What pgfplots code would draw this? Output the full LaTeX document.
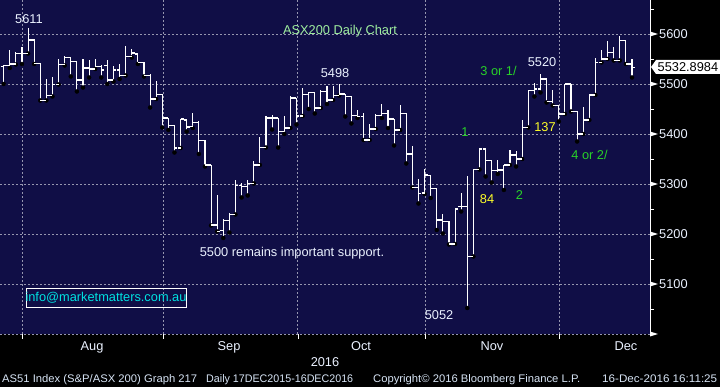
\documentclass[border=0pt]{standalone}
\usepackage{pgfplots}
\pgfplotsset{compat=1.18}
\usepackage{pgfplotstable}
\usepackage{graphicx}
\usepackage{fontspec}
\setmainfont{Liberation Sans}
\definecolor{bg}{RGB}{16,14,70}
\definecolor{gridc}{RGB}{150,150,175}
\definecolor{txt}{RGB}{235,242,255}
\definecolor{grn}{RGB}{40,210,40}
\definecolor{lgrn}{RGB}{160,240,160}
\definecolor{yel}{RGB}{255,255,40}
\definecolor{cyn}{RGB}{0,225,225}
\definecolor{foot}{RGB}{215,228,245}
\newcommand{\lab}{\fontsize{12.8}{15}\selectfont}
\newcommand{\ft}{\fontsize{11}{12}\selectfont}
\pgfdeclareplotmark{openL}{\pgfpathmoveto{\pgfqpoint{-3pt}{0pt}}\pgfpathlineto{\pgfqpoint{0pt}{0pt}}\pgfusepathqstroke}
\pgfdeclareplotmark{closeR}{\pgfpathmoveto{\pgfqpoint{0pt}{0pt}}\pgfpathlineto{\pgfqpoint{3pt}{0pt}}\pgfusepathqstroke}
\pgfplotstableread{
i O H L C
-3 5535 5538 5500 5537
-2 5537 5567 5532 5540
-1 5540 5563 5539 5561
0 5561 5573 5540 5561
1 5561 5611 5561 5588
2 5588 5590 5540 5541
3 5541 5541 5467 5467
4 5467 5510 5467 5477
5 5477 5513 5475 5499
6 5499 5550 5499 5539
7 5539 5555 5537 5553
8 5553 5553 5515 5545
9 5545 5545 5485 5508
10 5508 5550 5493 5532
11 5532 5547 5513 5530
12 5530 5550 5530 5535
13 5535 5537 5513 5528
14 5537 5547 5500 5508
15 5508 5535 5505 5528
16 5528 5539 5510 5517
17 5517 5575 5517 5555
18 5555 5570 5553 5562
19 5560 5562 5540 5543
20 5543 5543 5515 5517
21 5517 5519 5453 5470
22 5470 5505 5470 5479
23 5479 5479 5413 5432
24 5432 5432 5408 5417
25 5417 5417 5363 5372
26 5372 5430 5372 5430
27 5428 5430 5405 5414
28 5415 5441 5412 5423
29 5423 5425 5360 5387
30 5387 5387 5335 5338
31 5338 5338 5217 5218
32 5218 5277 5205 5205
33 5207 5230 5192 5227
34 5227 5241 5203 5239
35 5239 5307 5239 5297
36 5297 5301 5273 5295
37 5295 5307 5277 5301
38 5301 5345 5301 5338
39 5338 5393 5338 5373
40 5373 5435 5373 5432
41 5432 5437 5409 5432
42 5432 5432 5373 5405
43 5405 5435 5400 5412
44 5412 5475 5412 5472
45 5472 5472 5419 5436
46 5436 5492 5436 5479
47 5479 5483 5450 5483
48 5483 5483 5441 5452
49 5452 5487 5452 5485
50 5485 5495 5460 5468
51 5468 5495 5468 5477
52 5477 5499 5477 5480
53 5480 5480 5435 5475
54 5475 5475 5421 5437
55 5437 5448 5432 5435
56 5435 5441 5388 5388
57 5388 5419 5388 5410
58 5410 5439 5410 5437
59 5437 5459 5432 5441
60 5441 5447 5412 5430
61 5430 5430 5377 5408
62 5408 5457 5408 5441
63 5441 5441 5341 5360
64 5360 5375 5293 5293
65 5293 5310 5261 5281
66 5282 5330 5280 5318
67 5317 5317 5272 5291
68 5291 5291 5208 5228
69 5228 5240 5201 5225
70 5225 5225 5179 5180
71 5180 5250 5180 5250
72 5255 5282 5245 5255
73 5255 5315 5052 5155
74 5155 5330 5155 5329
75 5329 5370 5329 5370
76 5370 5370 5315 5347
77 5347 5347 5303 5327
78 5327 5347 5320 5328
79 5328 5337 5288 5338
80 5338 5367 5338 5358
81 5358 5365 5335 5350
82 5350 5427 5350 5413
83 5413 5488 5413 5487
84 5487 5502 5475 5490
85 5490 5520 5483 5510
86 5510 5510 5463 5465
87 5465 5487 5457 5457
88 5457 5457 5425 5440
89 5440 5500 5440 5500
90 5500 5500 5445 5445
91 5445 5445 5385 5400
92 5400 5453 5400 5428
93 5428 5478 5428 5478
94 5478 5552 5478 5543
95 5543 5567 5543 5550
96 5550 5585 5550 5563
97 5563 5573 5547 5547
98 5547 5595 5547 5587
99 5587 5587 5540 5540
100 5540 5550 5513 5533
}\ohlc
\begin{document}
\begin{tikzpicture}
\path[use as bounding box] (0,-53pt) rectangle (720pt,334pt);
\fill[black] (0,-53pt) rectangle (720pt,334pt);
\begin{axis}[at={(0,0)}, anchor=south west, scale only axis,
  width=650pt, height=334pt,
  xmin=-3.6, xmax=102.95, ymin=5000, ymax=5668,
  axis background/.style={fill=bg},
  axis line style={draw=none},
  xtick={0,23.1,45.2,66.1,88}, ytick={5000,5100,...,5600},
  xticklabels={}, yticklabels={},
  major tick length=0pt,
  grid=major, grid style={gridc, line width=0.6pt, dash pattern=on 2pt off 2pt},
  clip=false]
\addplot[only marks, mark=none, forget plot,
  error bars/.cd, y dir=plus, y explicit, error mark=none,
  error bar style={draw=white, line width=1.1pt}]
  table[x=i, y=L, y error expr=\thisrow{H}-\thisrow{L}] {\ohlc};
\addplot[only marks, mark=openL, mark options={draw=white, line width=1.1pt}] table[x=i, y=O] {\ohlc};
\addplot[only marks, mark=closeR, mark options={draw=white, line width=1.1pt}] table[x=i, y=C] {\ohlc};
\end{axis}
% right axis
\draw[white, line width=1pt] (650pt,0) -- (650pt,334pt);
\foreach \v in {5000,5100,...,5600} {
  \fill[white] (650pt,{(\v-5000)*0.5pt+2.5pt}) -- (658pt,{(\v-5000)*0.5pt}) -- (650pt,{(\v-5000)*0.5pt-2.5pt}) -- cycle;
}
\foreach \v in {5050,5150,...,5650} {
  \draw[white, line width=0.8pt] (650pt,{(\v-5000)*0.5pt}) -- (654pt,{(\v-5000)*0.5pt});
}
\foreach \v in {5100,5200,...,5600} {
  \node[anchor=west, inner sep=0pt, text=txt, font=\lab] at (659pt,{(\v-5000)*0.5pt}) {\v};
}
% last price tag
\fill[white] (651pt,267pt) -- (656pt,274pt) -- (720pt,274pt) -- (720pt,260pt) -- (656pt,260pt) -- cycle;
\node[anchor=west, inner sep=0pt, text=black, font=\lab] at (657.5pt,267pt) {5532.8984};
% bottom ticks
\foreach \x in {22,163,298,425,559} {\draw[white, line width=0.8pt] (\x pt,0) -- (\x pt,-5pt);}
% month labels
\foreach \x/\m in {92/Aug,229/Sep,361/Oct,492/Nov,626/Dec} {
  \node[anchor=base, inner sep=0pt, text=txt, font=\lab] at (\x pt,-16.7pt) {\m};
}
\node[anchor=base, inner sep=0pt, text=txt, font=\lab] at (325pt,-32.7pt) {2016};
% footer
\node[anchor=base west, inner sep=0pt, text=foot, font=\ft] at (2pt,-49pt) {\resizebox{195pt}{\height}{AS51 Index (S\&P/ASX 200) Graph 217}};
\node[anchor=base west, inner sep=0pt, text=foot, font=\ft] at (206pt,-49pt) {\resizebox{147pt}{\height}{Daily 17DEC2015-16DEC2016}};
\node[anchor=base west, inner sep=0pt, text=foot, font=\ft] at (373pt,-49pt) {\resizebox{207pt}{\height}{Copyright© 2016 Bloomberg Finance L.P.}};
\node[anchor=base west, inner sep=0pt, text=foot, font=\ft] at (602pt,-49pt) {\resizebox{115pt}{\height}{16-Dec-2016 16:11:25}};
% annotations
\node[anchor=base, inner sep=0pt, text=txt, font=\lab] at (29pt,310.7pt) {5611};
\node[anchor=base, inner sep=0pt, text=lgrn, font=\lab] at (340pt,299.7pt) {ASX200 Daily Chart};
\node[anchor=base, inner sep=0pt, text=txt, font=\lab] at (335pt,256.3pt) {5498};
\node[anchor=base, inner sep=0pt, text=grn, font=\lab] at (465pt,197pt) {1};
\node[anchor=base, inner sep=0pt, text=grn, font=\lab] at (498.5pt,258pt) {3 or 1/};
\node[anchor=base, inner sep=0pt, text=txt, font=\lab] at (542pt,267.3pt) {5520};
\node[anchor=base, inner sep=0pt, text=yel, font=\lab] at (545pt,202.3pt) {137};
\node[anchor=base, inner sep=0pt, text=grn, font=\lab] at (589.5pt,174pt) {4 or 2/};
\node[anchor=base, inner sep=0pt, text=yel, font=\lab] at (487pt,130.7pt) {84};
\node[anchor=base, inner sep=0pt, text=grn, font=\lab] at (519.5pt,134pt) {2};
\node[anchor=base, inner sep=0pt, text=txt, font=\lab] at (292pt,77.3pt) {5500 remains important support.};
\node[anchor=base, inner sep=0pt, text=txt, font=\lab] at (439pt,14pt) {5052};
\draw[white, line width=0.8pt] (26pt,27pt) rectangle (186pt,46pt);
\node[anchor=center, inner sep=0pt, text=cyn, font=\lab] at (106pt,36.5pt) {info@marketmatters.com.au};
\end{tikzpicture}
\end{document}
